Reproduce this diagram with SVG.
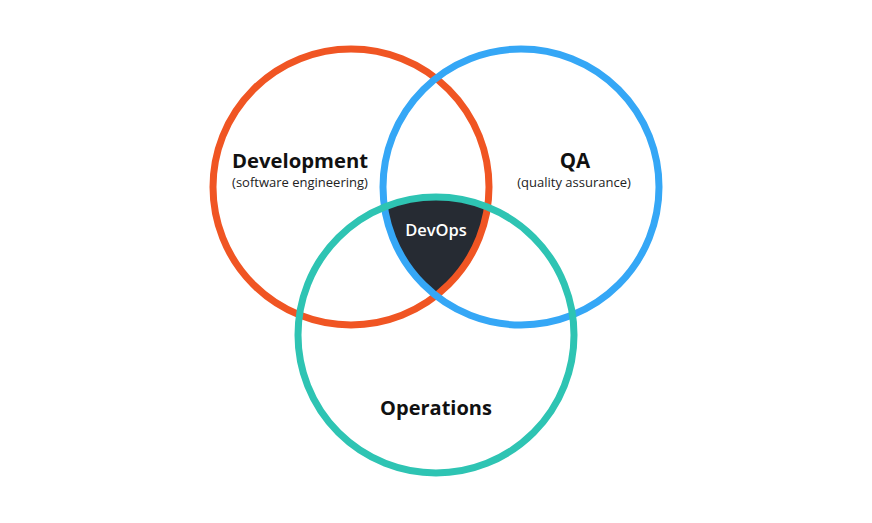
<svg xmlns="http://www.w3.org/2000/svg" width="872" height="523" viewBox="0 0 872 523">
<style>
.ring{fill:none;stroke-width:7}
.title{font-family:"Open Sans","Noto Sans",sans-serif;font-weight:700;fill:#111;text-anchor:middle}
.sub{font-family:"Open Sans","Noto Sans",sans-serif;font-size:13px;fill:#222;text-anchor:middle}
</style>
<defs>
<clipPath id="cDev"><circle cx="351" cy="187" r="138"/></clipPath>
<clipPath id="cQA"><circle cx="521" cy="187" r="138"/></clipPath>
</defs>
<rect width="872" height="523" fill="#fff"/>
<g id="devops-fill" clip-path="url(#cDev)">
<g clip-path="url(#cQA)"><circle cx="436" cy="335" r="138" fill="#262b33"/></g>
</g>
<g id="connectors"></g>
<g id="development"><circle class="ring" cx="351" cy="187" r="138" stroke="#f05523"/>
<text class="title" x="300" y="168" font-size="20.3">Development</text>
<text class="sub" x="300" y="187">(software engineering)</text></g>
<g id="qa"><circle class="ring" cx="521" cy="187" r="138" stroke="#35a7f6"/>
<text class="title" x="575" y="168" font-size="20.5">QA</text>
<text class="sub" x="574" y="187">(quality assurance)</text></g>
<g id="operations"><circle class="ring" cx="436" cy="335" r="138" stroke="#2ec4b3"/>
<text class="title" x="436" y="415" font-size="20">Operations</text></g>
<g id="devops"><text x="436" y="236" font-family="'Open Sans','Noto Sans',sans-serif" font-size="16.5" font-weight="600" fill="#fff" text-anchor="middle">DevOps</text></g>
</svg>
